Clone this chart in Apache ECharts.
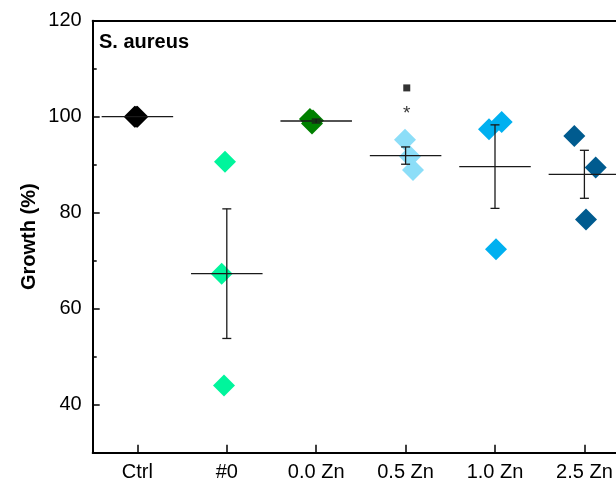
<!DOCTYPE html>
<html>
<head>
<meta charset="utf-8">
<script src="https://cdn.jsdelivr.net/npm/echarts@6/dist/echarts.min.js"></script>
<style>
html,body{margin:0;padding:0;background:#fff;overflow:hidden;width:616px;height:483px;}
#chart{width:630px;height:483px;}
</style>
</head>
<body>
<div id="chart"></div>
<script>
// ---- data ----
const categories = ['Ctrl', '#0', '0.0 Zn', '0.5 Zn', '1.0 Zn', '2.5 Zn'];
const replicateValues = [
  [100, 100, 100],
  [90.6, 67.3, 44.0],
  [99.5, 98.6, 99.2],
  [95.2, 91.7, 88.9],
  [97.4, 98.9, 72.4],
  [96.0, 89.4, 78.6]
];
const replicateJitter = [
  [-0.03, -0.015, 0],
  [-0.02, -0.057, -0.031],
  [-0.07, -0.047, -0.036],
  [-0.007, 0.049, 0.083],
  [-0.067, 0.075, 0.011],
  [-0.113, 0.126, 0.018]
];
const groupMeans = [100, 67.3, 99.1, 91.9, 89.6, 88.0];
const groupErrors = [0, 13.5, 0.4, 1.8, 8.7, 5.0];
const sigSquare = [null, null, null, 106.0, null, null];
const sigStar = [null, null, null, 101.4, null, null];
const yTickLabels = [40, 60, 80, 100, 120];
const yMinorTicks = [50, 70, 90, 110];
const yAxisTitle = 'Growth (%)';
const panelTitle = 'S. aureus';

// ---- styles ----
const groupColors = ['#000000', '#00F59C', '#008000', '#8CDEF8', '#00B0F0', '#005B8F'];
const FONT = 'Liberation Sans, Arial, Helvetica, sans-serif';

const chart = echarts.init(document.getElementById('chart'), null, {renderer: 'canvas', width: 630, height: 483});

const scatterSeries = categories.map(function (c, i) {
  return {
    type: 'scatter',
    name: c,
    xAxisIndex: 1,
    yAxisIndex: 0,
    symbol: 'diamond',
    symbolSize: 22,
    itemStyle: {color: groupColors[i], opacity: 1},
    z: 2,
    data: replicateValues[i].map(function (v, k) {
      return [i + 0.5 + replicateJitter[i][k], v];
    })
  };
});

const summaryData = categories.map(function (c, i) {
  return [i + 0.5, groupMeans[i], groupErrors[i]];
});

const summarySeries = {
  type: 'custom',
  xAxisIndex: 1,
  yAxisIndex: 0,
  z: 5,
  data: summaryData,
  renderItem: function (params, api) {
    const x = api.value(0), m = api.value(1), e = api.value(2);
    const c = api.coord([x, m]);
    const half = api.size([0.4, 0])[0];
    const st = {stroke: '#1a1a1a', lineWidth: 1.3};
    const children = [{
      type: 'line',
      shape: {x1: c[0] - half, y1: c[1], x2: c[0] + half, y2: c[1]},
      style: st
    }];
    if (e > 0) {
      const top = api.coord([x, m + e]);
      const bot = api.coord([x, m - e]);
      const cap = 4.5;
      children.push({type: 'line', shape: {x1: c[0], y1: top[1], x2: c[0], y2: bot[1]}, style: st});
      children.push({type: 'line', shape: {x1: c[0] - cap, y1: top[1], x2: c[0] + cap, y2: top[1]}, style: st});
      children.push({type: 'line', shape: {x1: c[0] - cap, y1: bot[1], x2: c[0] + cap, y2: bot[1]}, style: st});
    }
    return {type: 'group', children: children};
  }
};

const squareSeries = {
  type: 'scatter',
  xAxisIndex: 1,
  yAxisIndex: 0,
  symbol: 'rect',
  symbolSize: 7,
  itemStyle: {color: '#000'},
  z: 6,
  data: sigSquare.map(function (v, i) { return v == null ? null : [i + 0.513, v]; }).filter(function (d) { return d; })
};

const starSeries = {
  type: 'scatter',
  xAxisIndex: 1,
  yAxisIndex: 0,
  symbolSize: 0,
  z: 6,
  label: {
    show: true,
    position: 'inside',
    formatter: '*',
    fontSize: 19,
    fontFamily: FONT,
    color: '#000',
    offset: [0, 4]
  },
  data: sigStar.map(function (v, i) { return v == null ? null : [i + 0.513, v]; }).filter(function (d) { return d; })
};

const option = {
  animation: false,
  backgroundColor: '#fff',
  title: {
    text: panelTitle,
    left: 99,
    top: 32,
    padding: 0,
    textStyle: {fontFamily: FONT, fontSize: 20, fontWeight: 'bold', color: '#000'}
  },
  graphic: [{
    type: 'text',
    x: 29,
    y: 236.7,
    rotation: Math.PI / 2,
    style: {
      text: yAxisTitle,
      fontFamily: FONT,
      fontSize: 20,
      fontWeight: 'bold',
      fill: '#000',
      align: 'center',
      verticalAlign: 'middle'
    }
  }],
  grid: {left: 92.7, top: 20.7, right: 0.9, bottom: 30.3, containLabel: false},
  xAxis: [{
    type: 'category',
    data: categories,
    boundaryGap: true,
    position: 'bottom',
    axisLine: {show: true, lineStyle: {color: '#000', width: 2}},
    axisTick: {show: true, inside: true, alignWithLabel: true, length: 8, lineStyle: {color: '#000', width: 1.5}},
    axisLabel: {fontFamily: FONT, fontSize: 20, color: '#000', margin: 10},
    splitLine: {show: false}
  }, {
    type: 'value',
    min: 0,
    max: 6,
    position: 'top',
    axisLine: {show: true, onZero: false, lineStyle: {color: '#000', width: 2}},
    axisTick: {show: false},
    axisLabel: {show: false},
    splitLine: {show: false}
  }],
  yAxis: [{
    type: 'value',
    min: 30,
    max: 120,
    interval: 10,
    axisLine: {show: true, onZero: false, lineStyle: {color: '#000', width: 2}},
    axisTick: {show: true, inside: true, length: 7, customValues: yTickLabels, lineStyle: {color: '#000', width: 1.5}},
    axisLabel: {fontFamily: FONT, fontSize: 20, color: '#000', margin: 11, customValues: yTickLabels},
    splitLine: {show: false}
  }, {
    type: 'value',
    min: 30,
    max: 120,
    interval: 10,
    position: 'left',
    axisLine: {show: false},
    axisTick: {show: true, inside: true, length: 4, customValues: yMinorTicks, lineStyle: {color: '#000', width: 1.5}},
    axisLabel: {show: false},
    splitLine: {show: false}
  }],
  series: scatterSeries.concat([summarySeries, squareSeries, starSeries])
};

chart.setOption(option);
</script>
</body>
</html>
